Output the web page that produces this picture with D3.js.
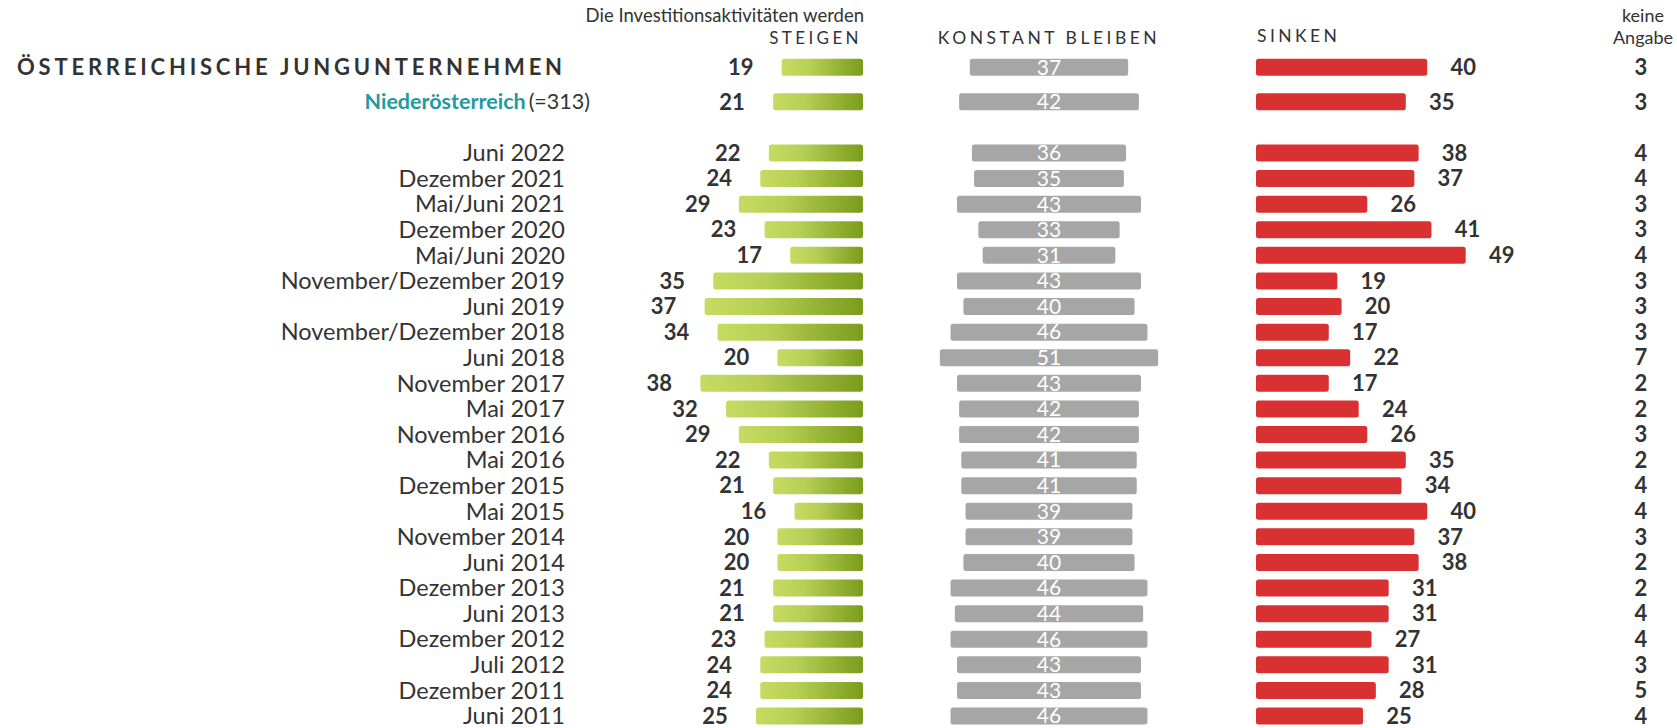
<!DOCTYPE html>
<html>
<head>
<meta charset="utf-8">
<script src="https://cdn.jsdelivr.net/npm/d3@7"></script>
<style>
  body { margin: 0; background: #fff; }
  svg text { font-family: Lato, "Open Sans", sans-serif; }
</style>
</head>
<body>
<svg id="chart" width="1677" height="728"></svg>
<script>
// waves of the survey, newest first
let waves = ["Juni 2022", "Dezember 2021", "Mai/Juni 2021", "Dezember 2020", "Mai/Juni 2020",
    "November/Dezember 2019", "Juni 2019", "November/Dezember 2018", "Juni 2018", "November 2017",
    "Mai 2017", "November 2016", "Mai 2016", "Dezember 2015", "Mai 2015", "November 2014",
    "Juni 2014", "Dezember 2013", "Juni 2013", "Dezember 2012", "Juli 2012", "Dezember 2011", "Juni 2011"];

let steigen  = [22, 24, 29, 23, 17, 35, 37, 34, 20, 38, 32, 29, 22, 21, 16, 20, 20, 21, 21, 23, 24, 24, 25];
let konstant = [36, 35, 43, 33, 31, 43, 40, 46, 51, 43, 42, 42, 41, 41, 39, 39, 40, 46, 44, 46, 43, 43, 46];
let sinken   = [38, 37, 26, 41, 49, 19, 20, 17, 22, 17, 24, 26, 35, 34, 40, 37, 38, 31, 31, 27, 31, 28, 25];
let keine    = [4, 4, 3, 3, 4, 3, 3, 3, 7, 2, 2, 3, 2, 4, 4, 3, 2, 2, 4, 4, 3, 5, 4];

// the two summary rows on top
let totalRow = {steigen: 19, konstant: 37, sinken: 40, keine: 3};
let noeRow   = {steigen: 21, konstant: 42, sinken: 35, keine: 3};

let svg = d3.select("#chart");
let textColor = "#333";

// rows: index -3.35 = Österreich, -2 = Niederösterreich, 0.. = waves
let rows = [
    Object.assign({pos: -3.35, kind: "total"}, totalRow),
    Object.assign({pos: -2, kind: "noe"}, noeRow)
];
waves.forEach((w, i) => {
    rows.push({pos: i, kind: "wave", label: w, steigen: steigen[i], konstant: konstant[i], sinken: sinken[i], keine: keine[i]});
});

let y = d3.scaleLinear().domain([0, waves.length - 1]).range([153, 716]);
let x = d3.scaleLinear().domain([0, 100]).range([0, 428]);

let greenRight = 863, grayCenter = 1049, redLeft = 1256, keineX = 1641, labelRight = 565;
let barH = 17;

// gradient for the green bars
let defs = svg.append("defs");
let grad = defs.append("linearGradient").attr("id", "green").attr("x1", "0%").attr("x2", "100%").attr("y1", "0%").attr("y2", "0%");
grad.append("stop").attr("offset", "0%").attr("stop-color", "#c6db62");
grad.append("stop").attr("offset", "35%").attr("stop-color", "#b7cf55");
grad.append("stop").attr("offset", "100%").attr("stop-color", "#7a9c1c");

// headers
svg.append("text").attr("x", 864).attr("y", 22).attr("text-anchor", "end")
    .style("font-size", "18.5px").attr("fill", textColor).text("Die Investitionsaktivitäten werden");
svg.append("text").attr("x", 862).attr("y", 44).attr("text-anchor", "end")
    .style("font-size", "17px").style("letter-spacing", "3.4px").attr("fill", textColor).text("STEIGEN");
svg.append("text").attr("x", grayCenter).attr("y", 44).attr("text-anchor", "middle")
    .style("font-size", "17.5px").style("letter-spacing", "3.5px").attr("fill", textColor).text("KONSTANT BLEIBEN");
svg.append("text").attr("x", redLeft + 1).attr("y", 42).attr("text-anchor", "start")
    .style("font-size", "17.5px").style("letter-spacing", "3.4px").attr("fill", textColor).text("SINKEN");
svg.append("text").attr("x", 1643).attr("y", 22).attr("text-anchor", "middle")
    .style("font-size", "18px").attr("fill", textColor).text("keine");
svg.append("text").attr("x", 1643).attr("y", 44).attr("text-anchor", "middle")
    .style("font-size", "18px").attr("fill", textColor).text("Angabe");

let g = svg.selectAll("g.row")
    .data(rows)
    .enter()
    .append("g")
    .attr("class", "row")
    .attr("transform", (d) => "translate(0," + y(d.pos) + ")");

// row labels
g.filter((d) => d.kind === "wave")
    .append("text")
    .attr("x", labelRight).attr("dy", "0.35em").attr("text-anchor", "end")
    .style("font-size", "23.5px").attr("fill", textColor)
    .text((d) => d.label);

g.filter((d) => d.kind === "total")
    .append("text")
    .attr("x", 17).attr("dy", "0.35em")
    .style("font-size", "22px").style("font-weight", "bold").style("letter-spacing", "3.8px")
    .attr("fill", textColor)
    .text("ÖSTERREICHISCHE JUNGUNTERNEHMEN");

let noeLabel = g.filter((d) => d.kind === "noe")
    .append("text")
    .attr("x", 590).attr("dy", "0.35em").attr("text-anchor", "end")
    .style("font-size", "21.5px");
noeLabel.append("tspan").attr("fill", "#1f9aa0").style("font-weight", "bold").text("Niederösterreich");
noeLabel.append("tspan").attr("fill", textColor).attr("dx", 3).text("(=313)");

// steigen
g.append("rect")
    .attr("x", (d) => greenRight - x(d.steigen))
    .attr("y", -barH / 2)
    .attr("width", (d) => x(d.steigen))
    .attr("height", barH)
    .attr("rx", 2.5)
    .attr("fill", "url(#green)");
g.append("text")
    .attr("x", (d) => greenRight - x(d.steigen) - 41)
    .attr("dy", "0.35em").attr("text-anchor", "middle")
    .style("font-size", "22px").style("font-weight", "bold").attr("fill", textColor)
    .text((d) => d.steigen);

// konstant bleiben
g.append("rect")
    .attr("x", (d) => grayCenter - x(d.konstant) / 2)
    .attr("y", -barH / 2)
    .attr("width", (d) => x(d.konstant))
    .attr("height", barH)
    .attr("rx", 2.5)
    .attr("fill", "#a6a6a6");
g.append("text")
    .attr("x", grayCenter)
    .attr("dy", "0.35em").attr("text-anchor", "middle")
    .style("font-size", "21px").attr("fill", "#fff")
    .text((d) => d.konstant);

// sinken
g.append("rect")
    .attr("x", redLeft)
    .attr("y", -barH / 2)
    .attr("width", (d) => x(d.sinken))
    .attr("height", barH)
    .attr("rx", 2.5)
    .attr("fill", "#d93131");
g.append("text")
    .attr("x", (d) => redLeft + x(d.sinken) + 36)
    .attr("dy", "0.35em").attr("text-anchor", "middle")
    .style("font-size", "22px").style("font-weight", "bold").attr("fill", textColor)
    .text((d) => d.sinken);

// keine Angabe
g.append("text")
    .attr("x", keineX)
    .attr("dy", "0.35em").attr("text-anchor", "middle")
    .style("font-size", "22px").style("font-weight", "bold").attr("fill", textColor)
    .text((d) => d.keine);
</script>
</body>
</html>
